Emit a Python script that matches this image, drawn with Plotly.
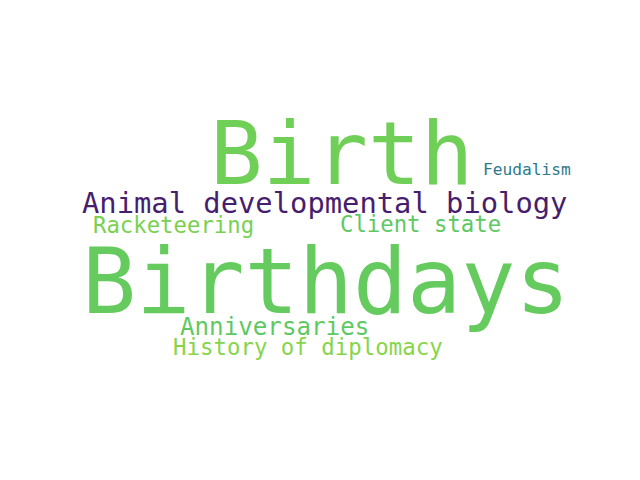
import plotly.graph_objects as go

words = ["Birthdays", "Birth", "Animal developmental biology", "Anniversaries",
         "Racketeering", "Client state", "History of diplomacy", "Feudalism"]
font_sizes = [90, 87.5, 28.8, 24.2, 22.3, 22.3, 22.4, 16.2]
x_pos = [326, 341, 324, 274, 173, 420, 308, 527]
y_pos = [281, 154, 203, 327, 225, 224, 347, 169]
colors = ["#65cb5e", "#6fcf57", "#471e6e", "#5ec962", "#7ad151", "#5ec962", "#86d549", "#2d7a8e"]

fig = go.Figure()
for w, s, x, y, c in zip(words, font_sizes, x_pos, y_pos, colors):
    fig.add_annotation(x=x, y=y, text=w, showarrow=False, xanchor="center", yanchor="middle",
                       font=dict(family="DejaVu Sans Mono", size=s, color=c))

# page body has an 8px margin; shift the coordinate frame so values are screen pixels
fig.update_xaxes(range=[8, 648], visible=False)
fig.update_yaxes(range=[488, 8], visible=False)
fig.update_layout(width=640, height=480, margin=dict(l=0, r=0, t=0, b=0),
                  plot_bgcolor="white", paper_bgcolor="white", showlegend=False)
fig.write_html("out.html")
